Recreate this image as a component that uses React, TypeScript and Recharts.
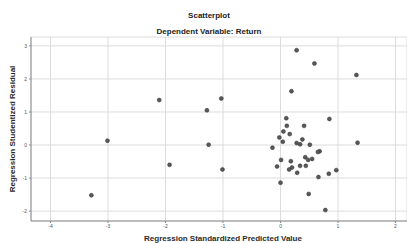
import React from 'react';
import { ScatterChart, Scatter, XAxis, YAxis, CartesianGrid } from 'recharts';

// standardized predicted value (x) and studentized residual (y), one per case
const predicted = [
  -3.01, -3.29, -2.11, -1.03, -1.28, -1.25, -1.93, -1.01,
  0.28, 0.59, 1.32, 0.19, 0.85, 0.1, 0.11, 0.41, 0.05, 0.16, -0.02, 0.38,
  0.04, 0.28, 0.34, 0.51, 1.34, -0.14, 0.68, 0.65, 0.43, 0.55, 0.48, 0.01,
  0.18, -0.06, 0.34, 0.44, 0.2, 0.15, 0.97, 0.29, 0.84, 0.66, 0.0, 0.49, 0.78,
];
const residual = [
  0.13, -1.52, 1.36, 1.41, 1.05, 0.01, -0.6, -0.74,
  2.87, 2.47, 2.12, 1.63, 0.79, 0.81, 0.58, 0.58, 0.41, 0.33, 0.23, 0.17,
  0.1, 0.06, 0.02, 0.01, 0.07, -0.08, -0.19, -0.21, -0.37, -0.42, -0.45, -0.45,
  -0.49, -0.65, -0.63, -0.63, -0.68, -0.74, -0.76, -0.84, -0.87, -0.97, -1.14, -1.48, -1.97,
];
const xTicks = [-4, -3, -2, -1, 0, 1, 2];
const yTicks = [-2, -1, 0, 1, 2, 3];

const points = predicted.map((x, i) => ({ x, y: residual[i] }));

const FONT = '"Liberation Sans", Arial, sans-serif';

const Dot = (props: any) => {
  const { cx, cy } = props;
  return <circle cx={cx} cy={cy} r={2} fill="#585858" stroke="#333" strokeWidth={0.5} />;
};

const App: React.FC = () => {
  return (
    <div style={{ position: 'absolute', left: 0, top: 0, width: 407, height: 243, background: '#fff', fontFamily: FONT }}>
      <div style={{ position: 'absolute', left: 11, width: 396, top: 10, textAlign: 'center', fontSize: 8, fontWeight: 'bold', color: '#222', lineHeight: '12px' }}>
        Scatterplot
      </div>
      <div style={{ position: 'absolute', left: 11, width: 396, top: 26, textAlign: 'center', fontSize: 8, fontWeight: 'bold', color: '#222', lineHeight: '12px' }}>
        Dependent Variable: Return
      </div>
      <ScatterChart width={407} height={243} margin={{ top: 37, right: 0, left: 0, bottom: 0 }}>
        <CartesianGrid stroke="#dcdcdc" strokeWidth={1} />
        <XAxis
          type="number"
          dataKey="x"
          domain={[-4.34, 2.2]}
          ticks={xTicks}
          allowDataOverflow
          height={22}
          tickSize={2}
          tickMargin={1}
          axisLine={{ stroke: '#8a8a8a' }}
          tickLine={{ stroke: '#8a8a8a' }}
          tick={{ fontSize: 5, fill: '#555', fontFamily: FONT }}
          label={{
            value: 'Regression Standardized Predicted Value',
            position: 'center',
            dx: 4,
            dy: 6.5,
            style: { fontSize: 8, fontWeight: 'bold', fill: '#2a2a2a', fontFamily: FONT },
          }}
        />
        <YAxis
          type="number"
          dataKey="y"
          domain={[-2.3, 3.27]}
          ticks={yTicks}
          allowDataOverflow
          width={31}
          tickSize={2}
          tickMargin={2}
          axisLine={{ stroke: '#8a8a8a' }}
          tickLine={{ stroke: '#8a8a8a' }}
          tick={{ fontSize: 5, fill: '#555', fontFamily: FONT }}
          label={{
            value: 'Regression Studentized Residual',
            angle: -90,
            position: 'center',
            dx: -3,
            style: { fontSize: 8, fontWeight: 'bold', fill: '#2a2a2a', fontFamily: FONT, textAnchor: 'middle' },
          }}
        />
        <Scatter data={points} shape={<Dot />} isAnimationActive={false} />
      </ScatterChart>
    </div>
  );
};

export default App;
